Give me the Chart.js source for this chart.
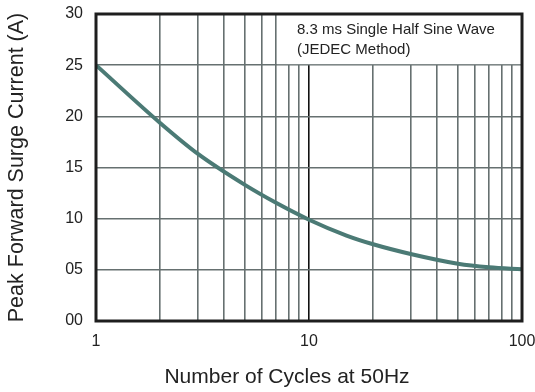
<!DOCTYPE html>
<html>
<head>
<meta charset="utf-8">
<script src="https://cdn.jsdelivr.net/npm/chart.js@4/dist/chart.umd.min.js"></script>
<style>
  html, body { margin: 0; padding: 0; background: #fff; }
  #wrap { width: 535px; height: 392px; }
</style>
</head>
<body>
<div id="wrap"><canvas id="surge-chart" width="535" height="392"></canvas></div>
<script>
// data
var cycles = [1, 2, 3, 5, 7, 10, 15, 20, 30, 50, 70, 100];
var surgeCurrent = [25, 19.35, 16.35, 13.3, 11.55, 9.9, 8.35, 7.5, 6.55, 5.6, 5.25, 5.05];
var xGridTicks = [1, 2, 3, 4, 5, 6, 7, 8, 9, 10, 20, 30, 40, 50, 60, 70, 80, 90, 100];
var xTickLabels = [1, 10, 100];
var yTickLabels = ['00', '05', '10', '15', '20', '25', '30'];
var noteLines = ['8.3 ms Single Half Sine Wave', '(JEDEC Method)'];
var noteFrom = { x: 7, y: 25 };
var xTitle = 'Number of Cycles at 50Hz';
var yTitle = 'Peak Forward Surge Current (A)';

var fontFamily = "'Liberation Sans', Arial, sans-serif";

// white note box in the upper right, drawn over the grid, plus frame and x title
var notePlugin = {
    id: 'noteBox',
    beforeDatasetsDraw: function (chart) {
        var ctx = chart.ctx;
        var xs = chart.scales.x, ys = chart.scales.y;
        var area = chart.chartArea;
        var left = xs.getPixelForValue(noteFrom.x) + 1;
        var bottom = ys.getPixelForValue(noteFrom.y) - 1;
        ctx.save();
        ctx.fillStyle = '#fff';
        ctx.fillRect(left, area.top, area.right - left, bottom - area.top);
        ctx.fillStyle = '#222';
        ctx.font = '15px ' + fontFamily;
        ctx.textBaseline = 'middle';
        for (var i = 0; i < noteLines.length; i++)
            ctx.fillText(noteLines[i], left + 20, area.top + 16 + i * 20);
        ctx.restore();
    },
    afterDraw: function (chart) {
        var ctx = chart.ctx;
        var a = chart.chartArea;
        ctx.save();
        ctx.strokeStyle = '#1e1e1e';
        ctx.lineWidth = 3;
        ctx.strokeRect(a.left, a.top, a.right - a.left, a.bottom - a.top);
        // x title sits a bit left of the plot centre in the original
        ctx.fillStyle = '#222';
        ctx.font = '21px ' + fontFamily;
        ctx.textAlign = 'center';
        ctx.textBaseline = 'middle';
        ctx.fillText(xTitle, (a.left + a.right) / 2 - 22, a.bottom + 56);
        ctx.restore();
    }
};

var points = [];
for (var i = 0; i < cycles.length; i++)
    points.push({ x: cycles[i], y: surgeCurrent[i] });

new Chart(document.getElementById('surge-chart'), {
    type: 'line',
    data: {
        datasets: [{
            data: points,
            borderColor: '#4b7a75',
            borderWidth: 4,
            pointRadius: 0,
            cubicInterpolationMode: 'monotone',
            fill: false
        }]
    },
    options: {
        responsive: false,
        animation: false,
        layout: { padding: { left: 0, right: 13, top: 14, bottom: 0 } },
        plugins: { legend: { display: false }, tooltip: { enabled: false } },
        scales: {
            x: {
                type: 'logarithmic',
                min: 1,
                max: 100,
                afterBuildTicks: function (scale) {
                    scale.ticks = xGridTicks.map(function (v) { return { value: v }; });
                },
                afterFit: function (scale) {
                    scale.height = 71;
                    scale.paddingLeft = 0;
                    scale.paddingRight = 0;
                },
                ticks: {
                    autoSkip: false,
                    maxRotation: 0,
                    padding: 11,
                    color: '#222',
                    font: { family: fontFamily, size: 16 },
                    callback: function (value) {
                        return xTickLabels.indexOf(value) >= 0 ? String(value) : '';
                    }
                },
                grid: {
                    drawTicks: false,
                    lineWidth: 1.6,
                    color: function (c) {
                        return c.tick && c.tick.value === 10 ? '#111' : '#667070';
                    }
                },
                border: { display: false },
                title: { display: false }
            },
            y: {
                min: 0,
                max: 30,
                afterFit: function (scale) {
                    scale.width = 96;
                    scale.paddingTop = 0;
                    scale.paddingBottom = 0;
                },
                ticks: {
                    stepSize: 5,
                    padding: 13,
                    color: '#222',
                    font: { family: fontFamily, size: 16 },
                    callback: function (value, idx) { return yTickLabels[idx]; }
                },
                grid: { drawTicks: false, lineWidth: 1.6, color: '#667070' },
                border: { display: false },
                title: {
                    display: true,
                    text: yTitle,
                    color: '#222',
                    font: { family: fontFamily, size: 21.5 },
                    padding: { top: 4, bottom: 0 }
                }
            }
        }
    },
    plugins: [notePlugin]
});
</script>
</body>
</html>
